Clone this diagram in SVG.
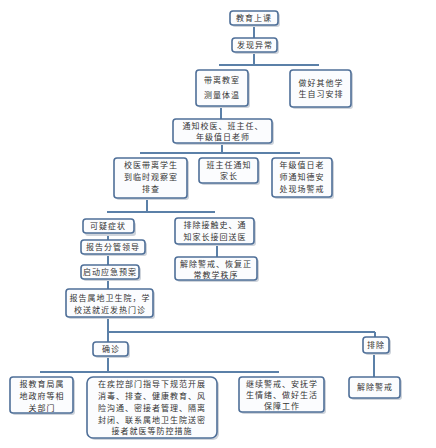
<svg xmlns="http://www.w3.org/2000/svg" width="436" height="448" viewBox="0 0 436 448">
<style>
.b{fill:#fbfcfe;stroke:#4f6f98;stroke-width:1.6}
.s{fill:#cfd4db}
.t{font-family:"Noto Sans CJK SC","Liberation Sans",sans-serif;font-size:8px;fill:#333;letter-spacing:1px;text-anchor:middle}
.c{stroke:#5b80a8;stroke-width:2;fill:none}
</style>
<rect width="436" height="448" fill="#fff"/>
<g id="connectors">
<path class="c" d="M254 25V38M254 52V65M219 65H319M221 106V119M222 143V153M140 153H300M147 198V212M107 212H215M108 233V240M108 254V265M108 279V289M217 244V257M108 317V332H375M108 332V342M375 332V337M108 356V372M40 372H279M374 353V377"/>
</g>
<g id="n1"><rect class="s" x="232" y="13" width="48" height="14" rx="3"/><rect class="b" x="230" y="11" width="48" height="14" rx="3"/><text class="t" x="254" y="21">教育上课</text></g>
<g id="n2"><rect class="s" x="234" y="40" width="45" height="14" rx="3"/><rect class="b" x="232" y="38" width="45" height="14" rx="3"/><text class="t" x="255" y="48">发现异常</text></g>
<g id="n3"><rect class="s" x="198" y="72" width="52" height="36" rx="3"/><rect class="b" x="196" y="70" width="52" height="36" rx="3"/><text class="t" x="222" y="83">带离教室</text><text class="t" x="222" y="98">测量体温</text></g>
<g id="n4"><rect class="s" x="292" y="72" width="61" height="37" rx="3"/><rect class="b" x="290" y="70" width="61" height="37" rx="3"/><text class="t" x="321" y="86">做好其他学</text><text class="t" x="321" y="97">生自习安排</text></g>
<g id="n5"><rect class="s" x="175" y="121" width="99" height="24" rx="3"/><rect class="b" x="173" y="119" width="99" height="24" rx="3"/><text class="t" x="223" y="129">通知校医、班主任、</text><text class="t" x="223" y="140">年级值日老师</text></g>
<g id="n6"><rect class="s" x="116" y="160" width="73" height="40" rx="3"/><rect class="b" x="114" y="158" width="73" height="40" rx="3"/><text class="t" x="151" y="168">校医带离学生</text><text class="t" x="151" y="180">到临时观察室</text><text class="t" x="151" y="192">排查</text></g>
<g id="n7"><rect class="s" x="201" y="160" width="59" height="25" rx="3"/><rect class="b" x="199" y="158" width="59" height="25" rx="3"/><text class="t" x="229" y="168">班主任通知</text><text class="t" x="229" y="179">家长</text></g>
<g id="n8"><rect class="s" x="274" y="160" width="60" height="39" rx="3"/><rect class="b" x="272" y="158" width="60" height="39" rx="3"/><text class="t" x="302" y="168">年级值日老</text><text class="t" x="302" y="180">师通知德安</text><text class="t" x="302" y="192">处现场警戒</text></g>
<g id="n9"><rect class="s" x="85" y="222" width="51" height="14" rx="3"/><rect class="b" x="83" y="219" width="51" height="14" rx="3"/><text class="t" x="108" y="229">可疑症状</text></g>
<g id="n10"><rect class="s" x="177" y="220" width="79" height="26" rx="3"/><rect class="b" x="175" y="218" width="79" height="26" rx="3"/><text class="t" x="215" y="228">排除接触史、通</text><text class="t" x="215" y="240">知家长接回送医</text></g>
<g id="n11"><rect class="s" x="83" y="242" width="64" height="14" rx="3"/><rect class="b" x="81" y="240" width="64" height="14" rx="3"/><text class="t" x="113" y="250">报告分管领导</text></g>
<g id="n12"><rect class="s" x="83" y="267" width="58" height="14" rx="3"/><rect class="b" x="81" y="265" width="58" height="14" rx="3"/><text class="t" x="110" y="275">启动应急预案</text></g>
<g id="n13"><rect class="s" x="177" y="259" width="82" height="23" rx="3"/><rect class="b" x="175" y="257" width="82" height="23" rx="3"/><text class="t" x="216" y="267">解除警戒、恢复正</text><text class="t" x="216" y="278">常教学秩序</text></g>
<g id="n14"><rect class="s" x="68" y="291" width="87" height="28" rx="3"/><rect class="b" x="66" y="289" width="87" height="28" rx="3"/><text class="t" x="110" y="301">报告属地卫生院，学</text><text class="t" x="110" y="313">校送就近发热门诊</text></g>
<g id="n15"><rect class="s" x="95" y="344" width="35" height="14" rx="3"/><rect class="b" x="93" y="342" width="35" height="14" rx="3"/><text class="t" x="111" y="352">确诊</text></g>
<g id="n16"><rect class="s" x="365" y="339" width="26" height="16" rx="3"/><rect class="b" x="363" y="337" width="26" height="16" rx="3"/><text class="t" x="376" y="348">排除</text></g>
<g id="n17"><rect class="s" x="12" y="379" width="63" height="36" rx="3"/><rect class="b" x="10" y="377" width="63" height="36" rx="3"/><text class="t" x="42" y="387">报教育局属</text><text class="t" x="42" y="399">地政府等相</text><text class="t" x="42" y="411">关部门</text></g>
<g id="n18"><rect class="s" x="89" y="379" width="130" height="61" rx="6"/><rect class="b" x="87" y="377" width="130" height="61" rx="6"/><text class="t" x="152" y="387">在疾控部门指导下规范开展</text><text class="t" x="152" y="399">消毒、排查、健康教育、风</text><text class="t" x="152" y="411">险沟通、密接者管理、隔离</text><text class="t" x="152" y="423">封闭、联系属地卫生院送密</text><text class="t" x="152" y="434">接者就医等防控措施</text></g>
<g id="n19"><rect class="s" x="241" y="379" width="85" height="35" rx="3"/><rect class="b" x="239" y="377" width="85" height="35" rx="3"/><text class="t" x="282" y="387">继续警戒、安抚学</text><text class="t" x="282" y="398">生情绪、做好生活</text><text class="t" x="282" y="409">保障工作</text></g>
<g id="n20"><rect class="s" x="351" y="379" width="51" height="21" rx="3"/><rect class="b" x="349" y="377" width="51" height="21" rx="3"/><text class="t" x="375" y="390">解除警戒</text></g>
</svg>
